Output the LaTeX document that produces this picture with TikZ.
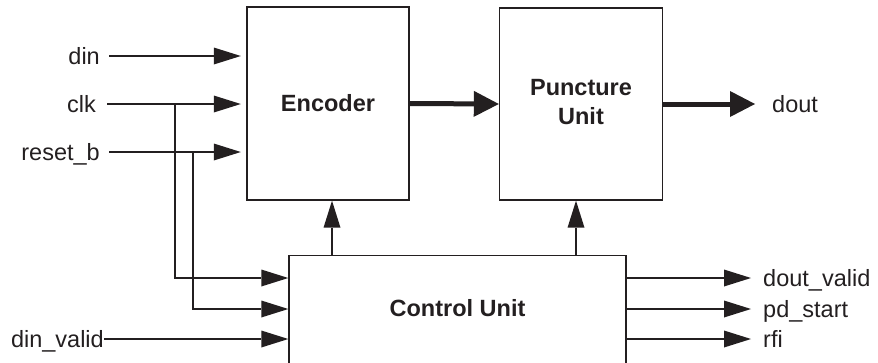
\documentclass[tikz,border=0pt]{standalone}
\usepackage{fontspec}
\setmainfont{Liberation Sans}
\usetikzlibrary{arrows.meta}
\definecolor{ink}{HTML}{231F20}

\tikzset{
    block/.style={draw=ink, line width=1.4pt, rectangle, inner sep=0pt},
    blocktxt/.style={font=\fontsize{23.5}{28.5}\selectfont\bfseries, align=center, text=ink},
    sig/.style={font=\fontsize{23.5}{28.5}\selectfont, text=ink, text height=17pt, text depth=0pt},
    arr/.style={draw=ink, line width=1.4pt, -{Triangle[length=27pt,width=17pt,line width=0pt]}},
    bigarr/.style={draw=ink, line width=5pt, -{Triangle[length=25pt,width=26pt,line width=0pt]}}
}

\begin{document}
\begin{tikzpicture}[x=1pt,y=-1pt]

        \clip (0,0) rectangle (878,362);

        \node[block, minimum width=162pt, minimum height=193pt] (enc) at (328,103.5) {};
        \node[block, minimum width=163pt, minimum height=192pt] (punc) at (581,104) {};
        \node[block, minimum width=337pt, minimum height=130pt, anchor=north] (ctrl) at (457.5,255) {};

        \node[blocktxt] (enctxt) at (enc) {Encoder};
        \node[blocktxt] (punctxt) at (581,102) {Puncture\\Unit};
        \node[blocktxt] (ctrltxt) at (457.5,308) {Control Unit};

        \coordinate (row1) at (0,278);
        \coordinate (row2) at (0,309);
        \coordinate (row3) at (0,339);

        \node[sig, anchor=east, inner xsep=9pt] (din) at (109,56) {din};
        \node[sig, anchor=east, inner xsep=11pt] (clk) at (107,104) {clk};
        \node[sig, anchor=east, inner xsep=9pt] (rstb) at (109,152) {reset\_b};
        \node[sig, anchor=east, inner xsep=0pt] (dinv) at (104,339) {din\_valid};

        \node[sig, anchor=west, inner xsep=17pt] (dout) at (755,104) {dout};
        \node[sig, anchor=west, inner xsep=12pt] (doutv) at (751,278) {dout\_valid};
        \node[sig, anchor=west, inner xsep=12pt] (pds) at (751,309) {pd\_start};
        \node[sig, anchor=west, inner xsep=12pt] (rfi) at (751,339) {rfi};

        \draw[arr, shorten >=5.5pt] (din.east) -- (din.east -| enc.west);
        \draw[arr, shorten >=5.5pt] (clk.east) -- (clk.east -| enc.west);
        \draw[arr, shorten >=5.5pt] (rstb.east) -- (rstb.east -| enc.west);
        \draw[arr] (dinv.east) -- (dinv.east -| ctrl.west);

        \coordinate (clktap) at ([xshift=68pt]clk.east);
        \coordinate (rsttap) at ([xshift=84pt]rstb.east);
        \draw[arr] (clktap) |- (ctrl.west |- row1);
        \draw[arr] (rsttap) |- (ctrl.west |- row2);

        \draw[bigarr] (enc.east) -- (punc.west);
        \draw[bigarr] (punc.east) -- (dout.west);

        \coordinate (encin) at ([xshift=4pt]enc.south);
        \coordinate (puncin) at ([xshift=-5pt]punc.south);
        \draw[arr] (ctrl.north -| encin) -- (encin);
        \draw[arr] (ctrl.north -| puncin) -- (puncin);

        \draw[arr] (ctrl.east |- doutv.west) -- (doutv.west);
        \draw[arr] (ctrl.east |- pds.west) -- (pds.west);
        \draw[arr] (ctrl.east |- rfi.west) -- (rfi.west);

\end{tikzpicture}
\end{document}
